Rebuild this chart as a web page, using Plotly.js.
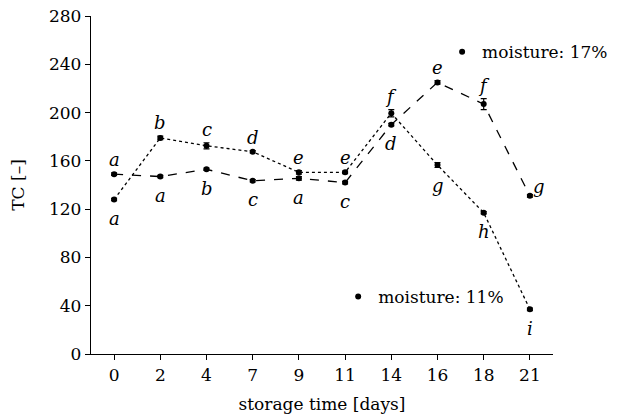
<!DOCTYPE html>
<html>
<head>
<meta charset="utf-8">
<script src="https://cdn.plot.ly/plotly-3.0.1.min.js"></script>
<style>html,body{margin:0;padding:0;background:#fff;}#chart{width:625px;height:418px;}</style>
</head>
<body>
<div id="chart"></div>
<script>
// ---- data ----
const days = ['0','2','4','7','9','11','14','16','18','21'];
const tc11 = [128, 179, 172.5, 167.5, 150.5, 150.5, 199.5, 156.5, 117, 37];
const err11 = [1, 1.5, 2.5, 1, 1.5, 1, 3, 2, 1, 1];
const letters11 = ['a','b','c','d','e','e','f','g','h','i'];
const tc17 = [149, 147, 153, 143.5, 145.5, 142, 190, 225, 207, 131];
const err17 = [1, 1, 1, 1, 1.5, 1, 1, 1.5, 4.5, 1];
const letters17 = ['a','a','b','c','a','c','d','e','f','g'];
const name11 = 'moisture: 11%';
const name17 = 'moisture: 17%';
const yTicks = [0, 40, 80, 120, 160, 200, 240, 280];

const FONT = 'DejaVu Serif';

const traces = [
  {x: days, y: tc11, type: 'scatter', mode: 'lines+markers', showlegend: false,
   line: {color: '#000', width: 1.3, dash: 'dot'},
   marker: {color: '#000', size: 6},
   error_y: {type: 'data', array: err11, visible: true, color: '#000', thickness: 1.2, width: 3}},
  {x: days, y: tc17, type: 'scatter', mode: 'lines+markers', showlegend: false,
   line: {color: '#000', width: 1.3, dash: 'dash'},
   marker: {color: '#000', size: 6},
   error_y: {type: 'data', array: err17, visible: true, color: '#000', thickness: 1.2, width: 3}},
  // legend keys
  {x: [null], y: [null], type: 'scatter', mode: 'markers', name: name17, legend: 'legend',
   marker: {color: '#000', size: 6}},
  {x: [null], y: [null], type: 'scatter', mode: 'markers', name: name11, legend: 'legend2',
   marker: {color: '#000', size: 6}}
];

// letter annotations: above when series is higher, below when lower (clear of error bars)
const annotations = [];
for (let i = 0; i < days.length; i++) {
  const hi11 = tc11[i] > tc17[i];
  annotations.push({x: i, y: hi11 ? tc11[i] + err11[i] : tc11[i] - err11[i],
    text: '<i>' + letters11[i] + '</i>', showarrow: false,
    yanchor: hi11 ? 'bottom' : 'top', yshift: hi11 ? 1 : -5,
    font: {family: FONT, size: 18, color: '#000'}});
  const last = i === days.length - 1;
  annotations.push({x: i, y: last ? tc17[i] : (hi11 ? tc17[i] - err17[i] : tc17[i] + err17[i]),
    text: '<i>' + letters17[i] + '</i>', showarrow: false,
    yanchor: last ? 'bottom' : (hi11 ? 'top' : 'bottom'), yshift: last ? -3 : (hi11 ? -5 : 1),
    xanchor: last ? 'left' : 'center', xshift: last ? 1 : 0,
    font: {family: FONT, size: 18, color: '#000'}});
}

const layout = {
  width: 625, height: 418,
  margin: {l: 91, r: 60, t: 16, b: 64},
  paper_bgcolor: '#fff', plot_bgcolor: '#fff',
  font: {family: FONT, size: 17, color: '#000'},
  xaxis: {type: 'category', range: [-0.5, 9.5], showgrid: false, zeroline: false,
    showline: true, linecolor: '#000', linewidth: 1.2, ticks: 'outside', ticklen: 5, tickcolor: '#000',
    tickfont: {family: FONT, size: 17},
    title: {text: 'storage time [days]', font: {family: FONT, size: 17}, standoff: 14}},
  yaxis: {range: [0, 280], tickvals: yTicks, showgrid: false, zeroline: false,
    showline: true, linecolor: '#000', linewidth: 1.2, ticks: 'outside', ticklen: 5, tickcolor: '#000',
    tickfont: {family: FONT, size: 17},
    title: {text: 'TC [–]', font: {family: FONT, size: 17}, standoff: 20}},
  legend: {x: 0.76, y: 0.893, xanchor: 'left', yanchor: 'middle', bgcolor: 'rgba(0,0,0,0)',
    font: {family: FONT, size: 17}},
  legend2: {x: 0.535, y: 0.169, xanchor: 'left', yanchor: 'middle', bgcolor: 'rgba(0,0,0,0)',
    font: {family: FONT, size: 17}},
  annotations: annotations
};

Plotly.newPlot('chart', traces, layout, {displayModeBar: false, staticPlot: true});
</script>
</body>
</html>
